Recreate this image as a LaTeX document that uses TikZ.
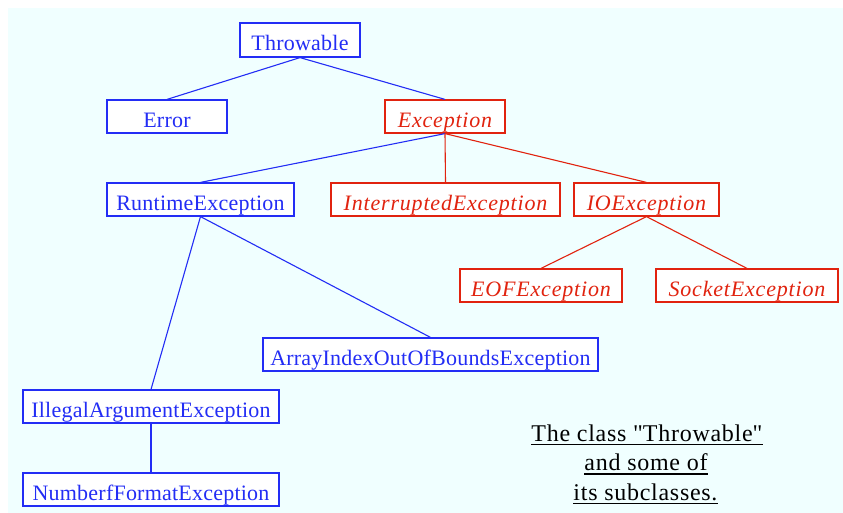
\documentclass[tikz,border=0pt]{standalone}
\usepackage{fontspec}
\setmainfont{Liberation Serif}
\definecolor{bgcyan}{RGB}{240,255,255}
\definecolor{jblue}{RGB}{35,45,245}
\definecolor{jred}{RGB}{225,35,15}
\begin{document}
\begin{tikzpicture}[x=1pt,y=-1pt,
  cls/.style={draw, line width=1.2pt, fill=white, inner sep=0pt, minimum height=33pt,
    text height=22pt, text depth=0.5pt, font=\fontsize{22}{26}\selectfont\addfontfeature{LetterSpace=1}},
  bcls/.style={cls, draw=jblue, text=jblue},
  rcls/.style={cls, draw=jred, text=jred, font=\fontsize{22}{26}\selectfont\itshape\addfontfeature{LetterSpace=3.7}},
  bl/.style={draw=jblue, line width=1.1pt},
  rl/.style={draw=jred, line width=1.1pt},
  captxt/.style={anchor=base, inner sep=0pt, font=\fontsize{24}{28}\selectfont\addfontfeature{LetterSpace=3}},
  ul/.style={draw=black, line width=1.1pt}]
\useasboundingbox (0,0) rectangle (843,513);
\fill[bgcyan] (8,8) rectangle (843,513);
\node[bcls, minimum width=120pt, minimum height=34pt] (thr) at (300,40) {Throwable};
\node[bcls, minimum width=120pt] (err) at (167,116.5) {Error};
\node[rcls, minimum width=120pt] (exc) at (445,116.5) {Exception};
\node[bcls, minimum width=187pt] (rte) at (200.5,199.5) {RuntimeException};
\node[rcls, minimum width=229pt] (int) at (445.5,199.5) {InterruptedException};
\node[rcls, minimum width=145pt] (ioe) at (646.5,199.5) {IOException};
\node[rcls, minimum width=162pt] (eof) at (541,285.5) {EOFException};
\node[rcls, minimum width=182pt] (soc) at (747,285.5) {SocketException};
\node[bcls, minimum width=335pt] (arr) at (430.5,354.5) {ArrayIndexOutOfBoundsException};
\node[bcls, minimum width=256pt] (ill) at (151,406.5) {IllegalArgumentException};
\node[bcls, minimum width=256pt] (num) at (151,489.5) {NumberfFormatException};
\draw[bl] (thr.south) -- (err.north);
\draw[bl] (thr.south) -- (exc.north);
\draw[bl] (exc.south) -- (rte.north);
\draw[rl] (exc.south) -- (int.north);
\draw[rl] (exc.south) -- (ioe.north);
\draw[rl] (ioe.south) -- (eof.north);
\draw[rl] (ioe.south) -- (soc.north);
\draw[bl] (rte.south) -- (arr.north);
\draw[bl] (rte.south) -- (ill.north);
\draw[bl] (ill.south) -- (num.north);
\node[captxt] (c1) at (647,441) {The class \textquotedbl Throwable\textquotedbl};
\node[captxt] (c2) at (646,470.5) {and some of};
\node[captxt] (c3) at (645.5,500) {its subclasses.};
\draw[ul] ([yshift=-3.5pt]c1.base west) -- ([yshift=-3.5pt]c1.base east);
\draw[ul] ([yshift=-3.5pt]c2.base west) -- ([yshift=-3.5pt]c2.base east);
\draw[ul] ([yshift=-3.5pt]c3.base west) -- ([yshift=-3.5pt]c3.base east);
\end{tikzpicture}
\end{document}
